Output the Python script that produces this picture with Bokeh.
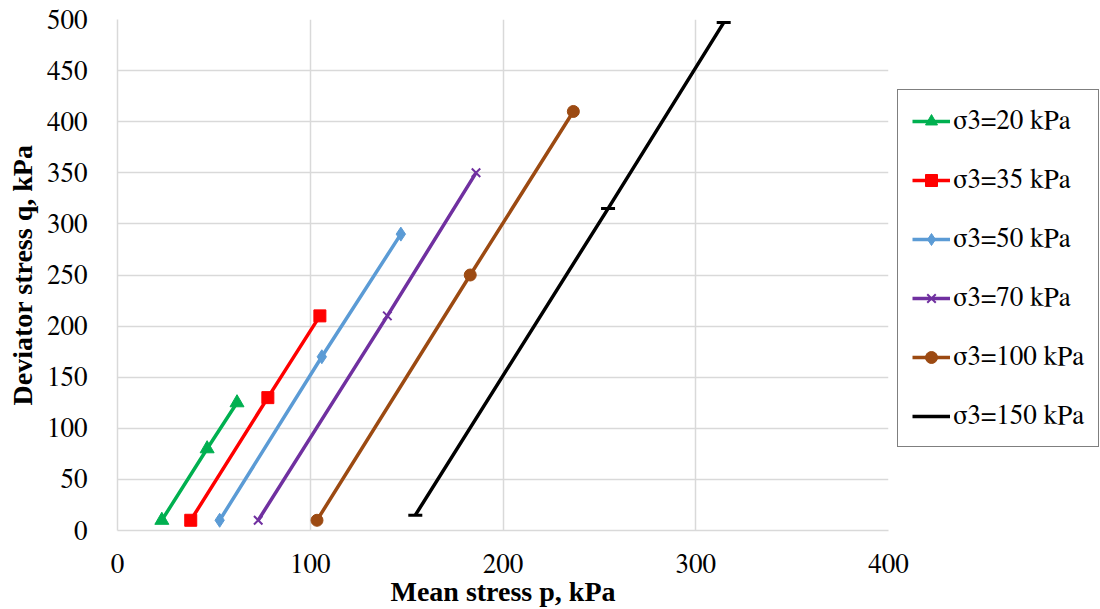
from bokeh.plotting import figure
from bokeh.models import Legend, LegendItem, Range1d, FixedTicker
from bokeh.embed import file_html
from bokeh.resources import INLINE

# Data
labels = ["σ3=20 kPa", "σ3=35 kPa", "σ3=50 kPa", "σ3=70 kPa", "σ3=100 kPa", "σ3=150 kPa"]
p20 = [23, 46.5, 62]
q20 = [10, 80, 125]
p35 = [38, 78, 105]
q35 = [10, 130, 210]
p50 = [53, 106, 147]
q50 = [10, 170, 290]
p70 = [73, 140, 186]
q70 = [10, 210, 350]
p100 = [103.5, 183, 236.5]
q100 = [10, 250, 410]
p150 = [154.5, 254.5, 314.5]
q150 = [15, 315, 497]
x_ticks = [0, 100, 200, 300, 400]
y_ticks = [0, 50, 100, 150, 200, 250, 300, 350, 400, 450, 500]

series = [
    (p20, q20, "#00B050", "triangle", 14),
    (p35, q35, "#FF0000", "square", 12),
    (p50, q50, "#5B9BD5", "diamond", 14),
    (p70, q70, "#7030A0", "x", 12),
    (p100, q100, "#9C4A12", "circle", 12),
    (p150, q150, "#000000", "dash", 14),
]

TITLE_FONT = "Liberation Serif"
TEXT_FONT = "FreeSerif"

p = figure(frame_width=771, frame_height=511, output_backend="svg", toolbar_location=None,
           x_range=Range1d(0, 400), y_range=Range1d(0, 500),
           min_border_left=117, min_border_top=19, min_border_bottom=79, min_border_right=0)
p.outline_line_color = None

items = []
for (xs, ys, col, mk, sz), lab in zip(series, labels):
    r1 = p.line(xs, ys, line_color=col, line_width=3.5)
    if mk in ("x", "dash"):
        r2 = p.scatter(xs, ys, marker=mk, size=sz, line_color=col, line_width=3 if mk == "dash" else 2)
    else:
        r2 = p.scatter(xs, ys, marker=mk, size=sz, fill_color=col, line_color=col)
    items.append(LegendItem(label=lab, renderers=[r1, r2]))

for ax, ticks in ((p.xaxis, x_ticks), (p.yaxis, y_ticks)):
    ax.ticker = FixedTicker(ticks=ticks)
    ax.axis_line_color = "#D9D9D9"
    ax.axis_line_width = 1.5
    ax.major_tick_line_color = None
    ax.minor_tick_line_color = None
    ax.major_label_text_font = TEXT_FONT
    ax.major_label_text_font_size = "27px"
    ax.major_label_text_color = "#000000"
    ax.axis_label_text_font = TITLE_FONT
    ax.axis_label_text_font_size = "28px"
    ax.axis_label_text_font_style = "bold"
    ax.axis_label_text_color = "#000000"

p.xaxis.axis_label = "Mean stress p, kPa"
p.yaxis.axis_label = "Deviator stress q, kPa"
p.xaxis.major_label_standoff = 18
p.xaxis.axis_label_standoff = 0
p.yaxis.major_label_standoff = 24
p.yaxis.axis_label_standoff = 6

p.xgrid.grid_line_color = "#D9D9D9"
p.ygrid.grid_line_color = "#D9D9D9"
p.xgrid.grid_line_width = 1.5
p.ygrid.grid_line_width = 1.5

legend = Legend(items=items, location=(9, 83))
legend.label_text_font = TEXT_FONT
legend.label_text_font_size = "27px"
legend.label_text_color = "#000000"
legend.glyph_width = 38
legend.glyph_height = 30
legend.label_height = 33
legend.spacing = 26
legend.padding = 14
legend.label_standoff = 3
legend.margin = 0
legend.border_line_color = "#000000"
legend.border_line_width = 1.5
legend.background_fill_alpha = 1.0
p.add_layout(legend, "right")

open("out.html", "w").write(file_html(p, INLINE))
